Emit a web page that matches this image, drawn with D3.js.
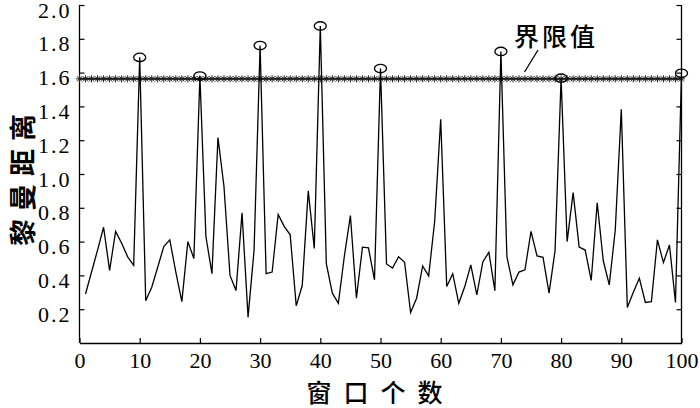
<!DOCTYPE html>
<html><head><meta charset="utf-8">
<script src="https://cdn.jsdelivr.net/npm/d3@7/dist/d3.min.js"></script>
<style>body{margin:0;background:#fff}svg{display:block}</style>
</head><body>
<svg id="c" width="700" height="408"></svg>
<script>
const windows = d3.range(1, 101);
const distances = [
0.29,0.42,0.55,0.685,0.43,0.66,0.59,0.51,0.46,1.69,
0.25,0.33,0.45,0.57,0.61,0.42,0.245,0.60,0.50,1.58,
0.63,0.41,1.215,0.926,0.40,0.31,0.77,0.153,0.55,1.76,
0.41,0.42,0.76,0.69,0.64,0.22,0.34,0.90,0.56,1.876,
0.47,0.295,0.235,0.515,0.754,0.265,0.567,0.563,0.374,1.624,
0.468,0.443,0.51,0.478,0.18,0.265,0.456,0.397,0.72,1.324,
0.334,0.41,0.235,0.334,0.462,0.285,0.48,0.537,0.31,1.725,
0.51,0.344,0.42,0.433,0.66,0.515,0.507,0.295,0.547,1.567,
0.60,0.89,0.567,0.55,0.37,0.83,0.488,0.344,0.67,1.383,
0.21,0.30,0.383,0.24,0.245,0.61,0.476,0.58,0.24,1.596];
const threshold = 1.563;
const thresholdX = d3.range(0, 101);
const xTicks = [0,10,20,30,40,50,60,70,80,90,100];
const yTicks = [0.2,0.4,0.6,0.8,1.0,1.2,1.4,1.6,1.8,2.0];
const xLabel = "窗口个数", yLabel = "黎曼距离", thrLabel = "界限值";

const svg = d3.select("#c");
const L = 79.5, R = 681.5, T = 5, B = 343;
const x = d3.scaleLinear().domain([0,100]).range([L,R]);
const y = d3.scaleLinear().domain([0,2]).range([B,T]);

const serif = "'Liberation Serif','Times New Roman',serif";
const cjk = "'Noto Sans CJK SC','Noto Sans CJK JP',sans-serif";

// axes
const gx = svg.append("g").attr("transform",`translate(0,${B})`)
  .call(d3.axisBottom(x).tickValues(xTicks).tickSizeInner(-5).tickSizeOuter(0).tickPadding(10).tickFormat(d3.format("d")));
const gy = svg.append("g").attr("transform",`translate(${L},0)`)
  .call(d3.axisLeft(y).tickValues(yTicks).tickSizeInner(-5).tickSizeOuter(0).tickPadding(8).tickFormat(d3.format(".1f")));
const gr = svg.append("g").attr("transform",`translate(${R},0)`)
  .call(d3.axisRight(y).tickValues(yTicks).tickSizeInner(-5).tickSizeOuter(0).tickFormat(""));
[gx,gy,gr].forEach(g=>{
  g.select(".domain").attr("stroke","#000").attr("stroke-width",1.3);
  g.selectAll(".tick line").attr("stroke","#000").attr("stroke-width",1.2);
  g.selectAll("text").attr("font-family",serif).attr("font-size",22).attr("fill","#000");
});
gy.select(".domain").attr("d",`M0,${T}V${B}`);
gr.select(".domain").attr("d",`M0,${T}V${B}`);
gy.selectAll("text").attr("letter-spacing",2).attr("dy","0.55em");
gx.selectAll("text").attr("dy","0.68em");

// threshold line
svg.append("line").attr("x1",x(0)).attr("x2",x(100)).attr("y1",y(threshold)).attr("y2",y(threshold))
  .attr("stroke","#000").attr("stroke-width",2);
const r = 3.6, k = 0.72*r;
const ast = `M${-r},0L${r},0M0,${-r}L0,${r}M${-k},${-k}L${k},${k}M${-k},${k}L${k},${-k}`;
svg.append("g").selectAll("path").data(thresholdX).join("path")
  .attr("transform",d=>`translate(${x(d)},${y(threshold)})`)
  .attr("d",ast).attr("stroke","#222").attr("stroke-width",1).attr("fill","none");

// data line
const line = d3.line().x((d,i)=>x(windows[i])).y(d=>y(d));
svg.append("path").datum(distances).attr("d",line).attr("fill","none")
  .attr("stroke","#000").attr("stroke-width",1.3).attr("stroke-linejoin","miter");

// circles at exceedances
svg.append("g").selectAll("ellipse")
  .data(windows.map((w,i)=>({w,v:distances[i]})).filter(d=>d.v>threshold))
  .join("ellipse").attr("cx",d=>x(d.w)).attr("cy",d=>y(d.v)).attr("rx",6).attr("ry",4.2)
  .attr("fill","none").attr("stroke","#000").attr("stroke-width",1.3);

// threshold label
svg.append("text").attr("x",514).attr("y",46).text(thrLabel)
  .attr("font-family",cjk).attr("font-size",25).attr("font-weight",500).attr("letter-spacing",3).attr("fill","#000");
svg.append("line").attr("x1",538).attr("y1",50).attr("x2",524.5).attr("y2",72)
  .attr("stroke","#000").attr("stroke-width",1.3);

// axis titles
svg.append("text").attr("x",(L+R)/2).attr("y",402).attr("text-anchor","middle").text(xLabel)
  .attr("font-family",cjk).attr("font-size",25).attr("font-weight",500).attr("letter-spacing",12).attr("fill","#000");
svg.append("text").attr("transform",`translate(33,${(T+B)/2+2}) rotate(-90)`).attr("text-anchor","middle")
  .text(yLabel).attr("font-family",cjk).attr("font-size",27).attr("font-weight",700).attr("letter-spacing",8).attr("fill","#000");
</script>
</body></html>
